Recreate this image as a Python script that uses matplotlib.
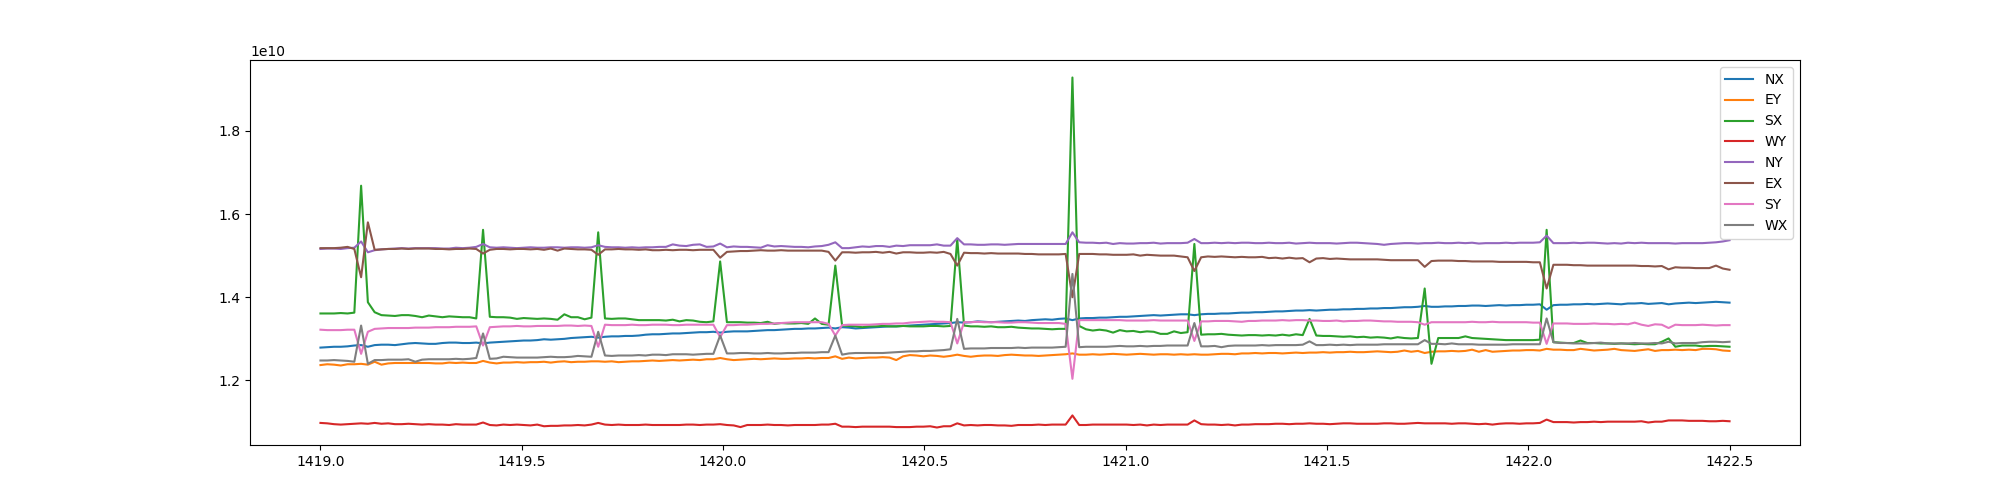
import numpy as np
import matplotlib
matplotlib.use("Agg")
import matplotlib.pyplot as plt

X_START = 1419.0
X_END = 1422.5
SCALE = 1e10

labels = ["NX", "EY", "SX", "WY", "NY", "EX", "SY", "WX"]

NX = [1.279, 1.280, 1.281, 1.281, 1.282, 1.284,
      1.285,
      1.281, 1.285, 1.286, 1.286, 1.285, 1.287, 1.289, 1.290, 1.289, 1.288, 1.288, 1.290, 1.291, 1.291, 1.290, 1.290, 1.291,
      1.289,
      1.291, 1.292, 1.293, 1.294, 1.295, 1.296, 1.296, 1.297, 1.299, 1.298, 1.299, 1.300, 1.302, 1.303, 1.304, 1.305,
      1.303,
      1.305, 1.306, 1.306, 1.307, 1.307, 1.308, 1.310, 1.311, 1.311, 1.312, 1.313, 1.313, 1.314, 1.315, 1.316, 1.316, 1.317,
      1.315,
      1.317, 1.318, 1.318, 1.318, 1.319, 1.320, 1.321, 1.321, 1.322, 1.323, 1.324, 1.324, 1.325, 1.325, 1.326, 1.327,
      1.325,
      1.328, 1.327, 1.325, 1.326, 1.327, 1.328, 1.329, 1.330, 1.330, 1.331, 1.332, 1.333, 1.334, 1.335, 1.336, 1.337, 1.338,
      1.340,
      1.339, 1.340, 1.342, 1.341, 1.340, 1.341, 1.342, 1.343, 1.344, 1.343, 1.345, 1.346, 1.347, 1.346, 1.348, 1.349,
      1.345,
      1.349, 1.350, 1.350, 1.351, 1.351, 1.352, 1.353, 1.353, 1.354, 1.355, 1.356, 1.357, 1.356, 1.357, 1.358, 1.359, 1.359,
      1.357,
      1.359, 1.360, 1.360, 1.361, 1.361, 1.362, 1.363, 1.363, 1.364, 1.364, 1.365, 1.366, 1.366, 1.367, 1.368, 1.368,
      1.369,
      1.368, 1.369, 1.370, 1.370, 1.371, 1.371, 1.372, 1.372, 1.373, 1.373, 1.374, 1.374, 1.375, 1.376, 1.376, 1.377,
      1.379,
      1.377, 1.377, 1.378, 1.378, 1.379, 1.379, 1.380, 1.380, 1.379, 1.380, 1.381, 1.380, 1.381, 1.381, 1.382, 1.382, 1.383,
      1.370,
      1.381, 1.382, 1.382, 1.383, 1.383, 1.384, 1.383, 1.384, 1.385, 1.384, 1.383, 1.385, 1.385, 1.386, 1.384, 1.385, 1.386,
      1.383, 1.385, 1.386, 1.387, 1.386, 1.387, 1.388, 1.389, 1.388, 1.387]

EY = [1.237, 1.239, 1.238, 1.236, 1.239, 1.239,
      1.240,
      1.238, 1.245, 1.238, 1.241, 1.242, 1.242, 1.242, 1.242, 1.242, 1.242, 1.241, 1.241, 1.243, 1.242, 1.243, 1.242, 1.242,
      1.247,
      1.243, 1.241, 1.243, 1.243, 1.244, 1.243, 1.244, 1.244, 1.245, 1.243, 1.245, 1.246, 1.244, 1.245, 1.245, 1.246,
      1.246,
      1.245, 1.246, 1.244, 1.245, 1.246, 1.246, 1.247, 1.248, 1.247, 1.248, 1.249, 1.248, 1.249, 1.250, 1.249, 1.251, 1.251,
      1.254,
      1.251, 1.249, 1.250, 1.251, 1.252, 1.251, 1.252, 1.253, 1.252, 1.252, 1.253, 1.253, 1.254, 1.253, 1.254, 1.254,
      1.258,
      1.252, 1.255, 1.253, 1.254, 1.255, 1.255, 1.256, 1.255, 1.249, 1.258, 1.261, 1.260, 1.258, 1.260, 1.259, 1.257, 1.259,
      1.262,
      1.259, 1.257, 1.259, 1.260, 1.260, 1.259, 1.261, 1.262, 1.261, 1.260, 1.260, 1.259, 1.260, 1.261, 1.262, 1.263,
      1.265,
      1.262, 1.262, 1.263, 1.262, 1.263, 1.264, 1.263, 1.262, 1.263, 1.264, 1.263, 1.262, 1.263, 1.263, 1.262, 1.263, 1.262,
      1.263,
      1.262, 1.262, 1.263, 1.264, 1.264, 1.263, 1.265, 1.265, 1.266, 1.265, 1.266, 1.266, 1.265, 1.266, 1.267, 1.266,
      1.267,
      1.267, 1.268, 1.267, 1.268, 1.268, 1.269, 1.268, 1.268, 1.269, 1.270, 1.269, 1.268, 1.269, 1.272, 1.269, 1.271,
      1.266,
      1.269, 1.270, 1.270, 1.271, 1.270, 1.271, 1.274, 1.269, 1.273, 1.269, 1.270, 1.271, 1.272, 1.272, 1.273, 1.273, 1.272,
      1.276,
      1.274, 1.274, 1.273, 1.273, 1.276, 1.274, 1.272, 1.273, 1.274, 1.276, 1.273, 1.272, 1.271, 1.273, 1.275, 1.271, 1.273,
      1.273, 1.274, 1.273, 1.274, 1.273, 1.276, 1.276, 1.275, 1.272, 1.271]

SX = [1.361, 1.361, 1.361, 1.362, 1.361, 1.363,
      1.668,
      1.388, 1.364, 1.357, 1.356, 1.355, 1.357, 1.357, 1.355, 1.352, 1.356, 1.354, 1.352, 1.354, 1.353, 1.352, 1.352, 1.349,
      1.562,
      1.353, 1.352, 1.352, 1.351, 1.348, 1.350, 1.349, 1.348, 1.349, 1.348, 1.346, 1.359, 1.352, 1.352, 1.347, 1.351,
      1.556,
      1.349, 1.348, 1.349, 1.349, 1.347, 1.345, 1.345, 1.345, 1.345, 1.344, 1.346, 1.342, 1.345, 1.344, 1.341, 1.340, 1.342,
      1.486,
      1.340, 1.340, 1.340, 1.339, 1.339, 1.338, 1.341, 1.336, 1.338, 1.337, 1.337, 1.338, 1.336, 1.349, 1.336, 1.334,
      1.476,
      1.332, 1.331, 1.330, 1.328, 1.330, 1.330, 1.331, 1.330, 1.330, 1.331, 1.330, 1.330, 1.330, 1.331, 1.331, 1.330, 1.331,
      1.540,
      1.332, 1.330, 1.330, 1.329, 1.330, 1.328, 1.328, 1.329, 1.327, 1.326, 1.325, 1.325, 1.324, 1.323, 1.324, 1.324,
      1.928,
      1.331, 1.323, 1.320, 1.322, 1.320, 1.315, 1.321, 1.318, 1.319, 1.316, 1.318, 1.317, 1.312, 1.312, 1.318, 1.314, 1.316,
      1.528,
      1.310, 1.311, 1.311, 1.312, 1.310, 1.309, 1.308, 1.309, 1.309, 1.308, 1.309, 1.308, 1.310, 1.308, 1.311, 1.309,
      1.348,
      1.308, 1.307, 1.307, 1.306, 1.305, 1.306, 1.304, 1.305, 1.303, 1.304, 1.303, 1.301, 1.304, 1.302, 1.301, 1.302,
      1.421,
      1.240, 1.302, 1.302, 1.302, 1.302, 1.306, 1.302, 1.301, 1.300, 1.299, 1.298, 1.297, 1.297, 1.297, 1.297, 1.297, 1.298,
      1.562,
      1.292, 1.291, 1.290, 1.290, 1.296, 1.290, 1.290, 1.289, 1.289, 1.288, 1.289, 1.288, 1.287, 1.288, 1.287, 1.287, 1.293,
      1.301, 1.281, 1.284, 1.284, 1.284, 1.282, 1.283, 1.283, 1.282, 1.281]

WY = [1.098, 1.097, 1.095, 1.094, 1.095, 1.096,
      1.097,
      1.096, 1.098, 1.096, 1.097, 1.095, 1.095, 1.096, 1.095, 1.094, 1.095, 1.094, 1.094, 1.093, 1.095, 1.094, 1.094, 1.094,
      1.099,
      1.093, 1.092, 1.094, 1.093, 1.094, 1.093, 1.092, 1.094, 1.090, 1.091, 1.091, 1.092, 1.092, 1.093, 1.092, 1.094,
      1.098,
      1.094, 1.093, 1.094, 1.093, 1.093, 1.093, 1.094, 1.093, 1.093, 1.093, 1.093, 1.093, 1.094, 1.094, 1.093, 1.094, 1.094,
      1.095,
      1.093, 1.092, 1.088, 1.093, 1.093, 1.093, 1.094, 1.093, 1.093, 1.092, 1.093, 1.093, 1.093, 1.093, 1.094, 1.094,
      1.096,
      1.089, 1.089, 1.088, 1.089, 1.089, 1.089, 1.089, 1.089, 1.088, 1.088, 1.088, 1.089, 1.089, 1.090, 1.087, 1.090, 1.090,
      1.097,
      1.092, 1.093, 1.092, 1.093, 1.093, 1.092, 1.092, 1.091, 1.093, 1.093, 1.093, 1.094, 1.093, 1.094, 1.094, 1.094,
      1.116,
      1.093, 1.093, 1.094, 1.094, 1.094, 1.094, 1.094, 1.094, 1.093, 1.094, 1.092, 1.094, 1.093, 1.094, 1.094, 1.094, 1.094,
      1.104,
      1.095, 1.094, 1.094, 1.093, 1.094, 1.092, 1.094, 1.094, 1.095, 1.095, 1.095, 1.096, 1.096, 1.095, 1.096, 1.096,
      1.097,
      1.096, 1.096, 1.095, 1.096, 1.097, 1.097, 1.096, 1.096, 1.096, 1.096, 1.097, 1.097, 1.096, 1.096, 1.097, 1.098,
      1.097,
      1.097, 1.097, 1.097, 1.096, 1.097, 1.097, 1.096, 1.095, 1.096, 1.094, 1.096, 1.097, 1.097, 1.096, 1.097, 1.097, 1.098,
      1.106,
      1.100, 1.100, 1.100, 1.099, 1.100, 1.100, 1.101, 1.100, 1.101, 1.101, 1.101, 1.101, 1.101, 1.102, 1.099, 1.101, 1.101,
      1.104, 1.104, 1.104, 1.103, 1.103, 1.103, 1.102, 1.102, 1.103, 1.102]

NY = [1.516, 1.517, 1.517, 1.516, 1.518, 1.519,
      1.534,
      1.508, 1.513, 1.515, 1.516, 1.517, 1.518, 1.517, 1.518, 1.518, 1.518, 1.518, 1.517, 1.517, 1.519, 1.518, 1.519, 1.521,
      1.528,
      1.520, 1.519, 1.520, 1.519, 1.518, 1.519, 1.520, 1.519, 1.519, 1.520, 1.520, 1.519, 1.520, 1.520, 1.519, 1.520,
      1.525,
      1.521, 1.520, 1.520, 1.519, 1.520, 1.519, 1.520, 1.520, 1.521, 1.521, 1.527, 1.524, 1.523, 1.526, 1.527, 1.521, 1.522,
      1.529,
      1.520, 1.522, 1.521, 1.521, 1.520, 1.519, 1.525, 1.522, 1.523, 1.522, 1.521, 1.521, 1.520, 1.522, 1.523, 1.526,
      1.532,
      1.518, 1.518, 1.520, 1.522, 1.521, 1.523, 1.523, 1.521, 1.524, 1.523, 1.525, 1.525, 1.525, 1.525, 1.527, 1.524, 1.524,
      1.542,
      1.527, 1.527, 1.526, 1.526, 1.527, 1.527, 1.526, 1.527, 1.528, 1.528, 1.528, 1.528, 1.528, 1.528, 1.528, 1.528,
      1.556,
      1.532, 1.531, 1.531, 1.530, 1.531, 1.528, 1.530, 1.529, 1.529, 1.530, 1.530, 1.531, 1.529, 1.530, 1.530, 1.530, 1.531,
      1.540,
      1.530, 1.530, 1.531, 1.530, 1.531, 1.530, 1.531, 1.531, 1.530, 1.530, 1.531, 1.530, 1.530, 1.531, 1.529, 1.530,
      1.531,
      1.530, 1.530, 1.530, 1.529, 1.530, 1.531, 1.531, 1.530, 1.529, 1.528, 1.526, 1.528, 1.529, 1.530, 1.530, 1.529,
      1.530,
      1.530, 1.531, 1.530, 1.530, 1.531, 1.530, 1.531, 1.529, 1.530, 1.530, 1.530, 1.531, 1.530, 1.531, 1.531, 1.531, 1.532,
      1.548,
      1.530, 1.530, 1.530, 1.531, 1.530, 1.531, 1.531, 1.530, 1.529, 1.530, 1.529, 1.531, 1.530, 1.531, 1.530, 1.530, 1.530,
      1.530, 1.529, 1.530, 1.530, 1.530, 1.530, 1.531, 1.532, 1.534, 1.537]

EX = [1.518, 1.518, 1.518, 1.519, 1.521, 1.516,
      1.448,
      1.580, 1.514, 1.515, 1.516, 1.516, 1.517, 1.516, 1.517, 1.517, 1.517, 1.516, 1.516, 1.515, 1.516, 1.516, 1.517, 1.516,
      1.505,
      1.514, 1.516, 1.516, 1.515, 1.516, 1.516, 1.515, 1.516, 1.514, 1.517, 1.512, 1.517, 1.516, 1.515, 1.515, 1.514,
      1.502,
      1.515, 1.515, 1.516, 1.515, 1.515, 1.514, 1.515, 1.513, 1.513, 1.514, 1.513, 1.514, 1.514, 1.513, 1.514, 1.514, 1.514,
      1.495,
      1.509, 1.510, 1.511, 1.511, 1.512, 1.513, 1.512, 1.512, 1.513, 1.512, 1.512, 1.512, 1.512, 1.512, 1.512, 1.509,
      1.488,
      1.508, 1.508, 1.507, 1.508, 1.508, 1.509, 1.507, 1.509, 1.505, 1.508, 1.508, 1.507, 1.507, 1.508, 1.507, 1.509, 1.504,
      1.476,
      1.507, 1.506, 1.506, 1.505, 1.506, 1.505, 1.505, 1.505, 1.505, 1.504, 1.504, 1.503, 1.503, 1.503, 1.503, 1.504,
      1.400,
      1.504, 1.504, 1.504, 1.503, 1.503, 1.502, 1.502, 1.502, 1.503, 1.500, 1.502, 1.501, 1.500, 1.500, 1.500, 1.498, 1.496,
      1.463,
      1.496, 1.498, 1.497, 1.498, 1.497, 1.496, 1.497, 1.496, 1.496, 1.497, 1.494, 1.495, 1.493, 1.495, 1.493, 1.494,
      1.484,
      1.493, 1.494, 1.492, 1.493, 1.492, 1.491, 1.491, 1.491, 1.491, 1.491, 1.490, 1.489, 1.489, 1.489, 1.489, 1.489,
      1.473,
      1.487, 1.488, 1.488, 1.488, 1.487, 1.487, 1.486, 1.486, 1.486, 1.486, 1.485, 1.485, 1.485, 1.485, 1.485, 1.484, 1.484,
      1.421,
      1.478, 1.478, 1.478, 1.477, 1.477, 1.476, 1.476, 1.476, 1.476, 1.476, 1.476, 1.476, 1.476, 1.475, 1.475, 1.474, 1.475,
      1.467, 1.472, 1.471, 1.471, 1.470, 1.470, 1.470, 1.476, 1.469, 1.466]

SY = [1.322, 1.321, 1.321, 1.321, 1.322, 1.322,
      1.264,
      1.317, 1.324, 1.325, 1.326, 1.326, 1.326, 1.326, 1.327, 1.327, 1.327, 1.328, 1.328, 1.328, 1.329, 1.329, 1.329, 1.330,
      1.284,
      1.328, 1.329, 1.330, 1.330, 1.331, 1.330, 1.330, 1.331, 1.331, 1.331, 1.331, 1.332, 1.332, 1.331, 1.332, 1.331,
      1.281,
      1.334, 1.333, 1.333, 1.333, 1.334, 1.333, 1.333, 1.334, 1.334, 1.334, 1.333, 1.333, 1.334, 1.334, 1.334, 1.334, 1.334,
      1.304,
      1.333, 1.333, 1.334, 1.334, 1.335, 1.336, 1.336, 1.337, 1.338, 1.339, 1.340, 1.340, 1.340, 1.340, 1.340, 1.336,
      1.308,
      1.333, 1.334, 1.334, 1.334, 1.334, 1.335, 1.336, 1.336, 1.337, 1.337, 1.339, 1.340, 1.341, 1.342, 1.341, 1.341, 1.340,
      1.289,
      1.340, 1.340, 1.341, 1.340, 1.340, 1.340, 1.339, 1.339, 1.340, 1.340, 1.339, 1.338, 1.338, 1.338, 1.338, 1.336,
      1.204,
      1.345, 1.345, 1.345, 1.345, 1.345, 1.345, 1.345, 1.344, 1.344, 1.344, 1.344, 1.345, 1.344, 1.344, 1.344, 1.344, 1.344,
      1.295,
      1.342, 1.342, 1.343, 1.343, 1.343, 1.342, 1.341, 1.343, 1.343, 1.344, 1.344, 1.344, 1.345, 1.344, 1.345, 1.345,
      1.344,
      1.344, 1.343, 1.343, 1.344, 1.342, 1.343, 1.343, 1.344, 1.344, 1.343, 1.342, 1.342, 1.341, 1.341, 1.341, 1.340,
      1.334,
      1.340, 1.340, 1.340, 1.340, 1.340, 1.340, 1.341, 1.340, 1.340, 1.341, 1.340, 1.340, 1.340, 1.340, 1.340, 1.339, 1.339,
      1.288,
      1.337, 1.337, 1.337, 1.336, 1.336, 1.336, 1.337, 1.336, 1.336, 1.335, 1.336, 1.335, 1.339, 1.334, 1.331, 1.335, 1.334,
      1.326, 1.334, 1.333, 1.333, 1.333, 1.334, 1.333, 1.332, 1.333, 1.333]

WX = [1.248, 1.248, 1.249, 1.248, 1.247, 1.245,
      1.332,
      1.240, 1.249, 1.249, 1.250, 1.250, 1.250, 1.251, 1.245, 1.250, 1.251, 1.251, 1.251, 1.251, 1.252, 1.251, 1.252, 1.254,
      1.313,
      1.252, 1.253, 1.257, 1.256, 1.255, 1.255, 1.255, 1.255, 1.256, 1.257, 1.256, 1.256, 1.257, 1.259, 1.258, 1.257,
      1.317,
      1.260, 1.259, 1.260, 1.260, 1.260, 1.261, 1.260, 1.262, 1.262, 1.261, 1.263, 1.263, 1.263, 1.262, 1.263, 1.264, 1.264,
      1.308,
      1.265, 1.265, 1.266, 1.266, 1.265, 1.265, 1.266, 1.265, 1.265, 1.266, 1.266, 1.267, 1.267, 1.267, 1.268, 1.268,
      1.308,
      1.262, 1.265, 1.266, 1.266, 1.266, 1.266, 1.266, 1.267, 1.268, 1.269, 1.270, 1.270, 1.271, 1.271, 1.272, 1.273, 1.275,
      1.348,
      1.276, 1.277, 1.277, 1.277, 1.278, 1.278, 1.278, 1.278, 1.279, 1.278, 1.279, 1.279, 1.279, 1.279, 1.280, 1.281,
      1.456,
      1.280, 1.281, 1.281, 1.281, 1.281, 1.282, 1.283, 1.282, 1.282, 1.283, 1.282, 1.283, 1.283, 1.284, 1.284, 1.284, 1.284,
      1.338,
      1.282, 1.282, 1.283, 1.280, 1.283, 1.284, 1.284, 1.284, 1.284, 1.285, 1.284, 1.285, 1.285, 1.285, 1.285, 1.286,
      1.294,
      1.285, 1.285, 1.286, 1.285, 1.286, 1.285, 1.286, 1.286, 1.286, 1.286, 1.287, 1.287, 1.287, 1.287, 1.287, 1.287,
      1.297,
      1.288, 1.288, 1.287, 1.289, 1.287, 1.287, 1.287, 1.286, 1.286, 1.286, 1.286, 1.286, 1.287, 1.287, 1.287, 1.287, 1.287,
      1.349,
      1.292, 1.290, 1.290, 1.289, 1.289, 1.289, 1.290, 1.291, 1.289, 1.289, 1.289, 1.289, 1.290, 1.289, 1.289, 1.290, 1.289,
      1.293, 1.289, 1.290, 1.290, 1.290, 1.292, 1.293, 1.293, 1.292, 1.293]

series = [NX, EY, SX, WY, NY, EX, SY, WX]

fig, ax = plt.subplots(figsize=(20, 5), dpi=100)
for name, vals in zip(labels, series):
    y = np.array(vals) * SCALE
    x = np.linspace(X_START, X_END, len(y))
    ax.plot(x, y, label=name)
ax.legend(loc="upper right")
fig.savefig("out.png")
